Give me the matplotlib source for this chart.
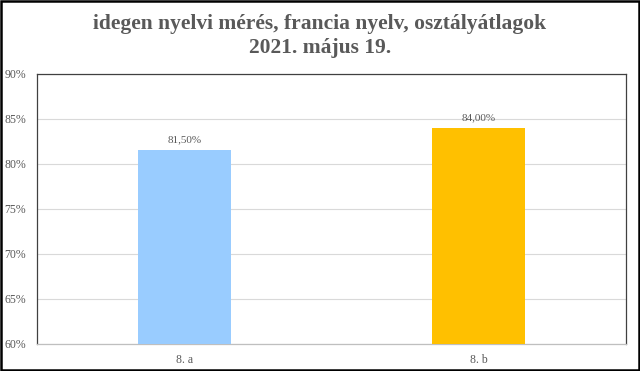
import matplotlib.pyplot as plt
from matplotlib.ticker import FuncFormatter

categories = ["8. a", "8. b"]
values = [81.5, 84.0]
bar_colors = ["#99CCFF", "#FFC000"]
yticks = [60, 65, 70, 75, 80, 85, 90]

TEXT = "#595959"
plt.rcParams["font.family"] = ["Liberation Serif", "DejaVu Serif"]

fig = plt.figure(figsize=(6.4, 3.71), dpi=100)
fig.patch.set_facecolor("white")
ax = fig.add_axes([37 / 640, 1 - 344 / 371, 589 / 640, 270.5 / 371])

x = range(len(categories))
bars = ax.bar(x, values, width=0.316, color=bar_colors, bottom=0, zorder=3)
for bar, v in zip(bars, values):
    ax.text(bar.get_x() + bar.get_width() / 2, v + 0.6, f"{v:.2f}%".replace(".", ","),
            ha="center", va="bottom", fontsize=8, color=TEXT)

ax.set_xlim(-0.5, 1.5)
ax.set_ylim(60, 90)
ax.set_yticks(yticks)
ax.yaxis.set_major_formatter(FuncFormatter(lambda v, _: f"{v:.0f}%"))
ax.set_xticks(list(x))
ax.set_xticklabels(categories)
ax.tick_params(axis="both", length=0, labelsize=8.5, colors=TEXT)
ax.tick_params(axis="y", pad=8)
ax.tick_params(axis="x", pad=7)
ax.grid(axis="y", color="#d9d9d9", linewidth=0.8, zorder=0)
for s in ax.spines.values():
    s.set_color("#404040")
    s.set_linewidth(0.9)
ax.spines["bottom"].set_color("#bfbfbf")

fig.text(0.5, 1 - 36 / 371, "idegen nyelvi mérés, francia nyelv, osztályátlagok\n2021. május 19.",
         ha="center", va="center", fontsize=15.5, fontweight="bold", color=TEXT, linespacing=1.2)

fig.add_artist(plt.Rectangle((0.001, 0.002), 0.997, 0.996, transform=fig.transFigure,
                             fill=False, edgecolor="black", linewidth=1.8))

fig.savefig("out.png", dpi=100)
